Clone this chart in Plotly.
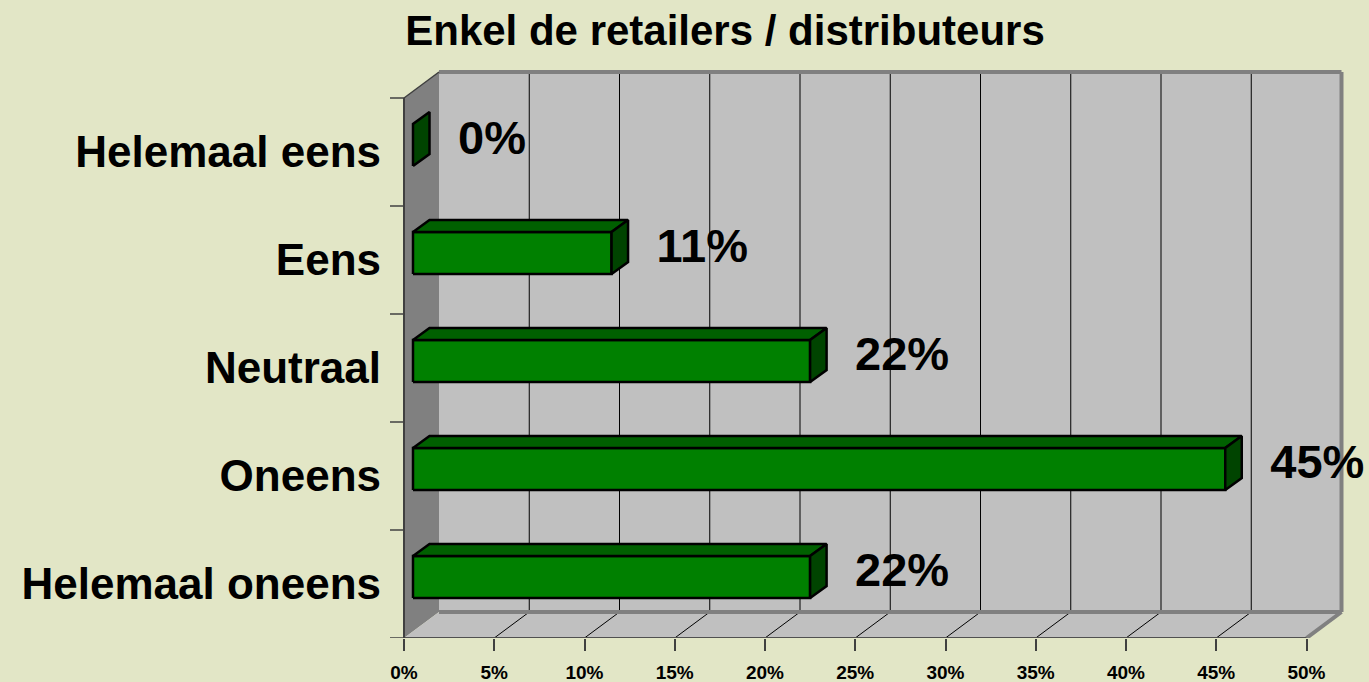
import plotly.graph_objects as go

# ---------------- data ----------------
categories = ["Helemaal eens", "Eens", "Neutraal", "Oneens", "Helemaal oneens"]
values = [0, 11, 22, 45, 22]
value_labels = ["0%", "11%", "22%", "45%", "22%"]
x_tick_vals = [0, 5, 10, 15, 20, 25, 30, 35, 40, 45, 50]
x_tick_text = ["0%", "5%", "10%", "15%", "20%", "25%", "30%", "35%", "40%", "45%", "50%"]
title_text = "Enkel de retailers / distributeurs"

# ---------------- styling / geometry ----------------
W, H = 1369, 682
PX_PER_PCT = 18.05
PX_PER_CAT = 108.0
X0_PX = 404.0      # pixel of front 0%
Y0_PX = 638.0      # pixel of front floor edge
L_PX, R_PX, T_PX = 388.0, 1369.0, 60.0

X_MAX = x_tick_vals[-1]
N = len(categories)

DX = 35 / PX_PER_PCT   # wall depth (x)
DY = 26 / PX_PER_CAT   # wall depth (y)
BOX = 9 / PX_PER_PCT   # bar front offset x
BOY = 7 / PX_PER_CAT   # bar front offset y
BDX = 16.5 / PX_PER_PCT  # bar depth x
BDY = 12 / PX_PER_CAT    # bar depth y
BH = 21 / PX_PER_CAT     # bar half height
LBL_DX = 45 / PX_PER_PCT
LBL_DY = 0.09
TICK_L = 14 / PX_PER_PCT

BG = "#E2E6C6"
WALL = "#C0C0C0"
SIDE_WALL = "#808080"
BORDER = "#808080"
AXIS = "#404040"
FRONT = "#008000"
TOP = "#006000"
SIDE = "#004400"
FONT = "Liberation Sans, Arial, sans-serif"

fig = go.Figure()


def poly(xs, ys, fill=None, lc="black", lw=0.0):
    fig.add_trace(go.Scatter(
        x=list(xs) + [xs[0]], y=list(ys) + [ys[0]], mode="lines",
        fill="toself" if fill else None, fillcolor=fill,
        line=dict(color=lc, width=lw), hoverinfo="skip", showlegend=False))


def lines(segs, color, width):
    xs, ys = [], []
    for (x1, y1, x2, y2) in segs:
        xs += [x1, x2, None]
        ys += [y1, y2, None]
    fig.add_trace(go.Scatter(x=xs, y=ys, mode="lines",
                             line=dict(color=color, width=width),
                             hoverinfo="skip", showlegend=False))


# back wall
poly([DX, X_MAX + DX, X_MAX + DX, DX], [DY, DY, N + DY, N + DY], fill=WALL, lc=WALL, lw=0)
# back wall gridlines
lines([(v + DX, DY, v + DX, N + DY) for v in x_tick_vals[1:-1]], "black", 1)
# left wall
poly([0, 0, DX, DX], [0, N, N + DY, DY], fill=SIDE_WALL, lc=SIDE_WALL, lw=0)
# floor
poly([0, X_MAX, X_MAX + DX, DX], [0, 0, DY, DY], fill=WALL, lc=WALL, lw=0)
# floor gridlines
lines([(v, 0, v + DX, DY) for v in x_tick_vals[1:-1]], "black", 1)
# wall / floor borders
lines([(DX, N + DY, X_MAX + DX, N + DY),
       (X_MAX + DX, N + DY, X_MAX + DX, DY),
       (DX, DY, X_MAX + DX, DY),
       (X_MAX, 0, X_MAX + DX, DY)], BORDER, 4)
# left wall top edge
lines([(0, N, DX, N + DY)], AXIS, 1.5)
# front axes
lines([(0, 0, X_MAX, 0)], "#505050", 2)
lines([(0, 0, 0, N)], AXIS, 2)
# category boundary ticks
lines([(-TICK_L, k, 0, k) for k in range(N + 1)], AXIS, 1.5)

# bars
for i, v in enumerate(values):
    c = N - 1 - i + 0.5
    y1 = c + BOY - BH
    y2 = c + BOY + BH
    x1 = BOX
    x2 = BOX + v
    if v > 0:
        poly([x1, x2, x2, x1], [y1, y1, y2, y2], fill=FRONT, lc="black", lw=2.5)
        poly([x1, x2, x2 + BDX, x1 + BDX], [y2, y2, y2 + BDY, y2 + BDY],
             fill=TOP, lc="black", lw=2.5)
    poly([x2, x2, x2 + BDX, x2 + BDX], [y1, y2, y2 + BDY, y1 + BDY],
         fill=SIDE, lc="black", lw=2.5)

# data labels
fig.add_trace(go.Scatter(
    x=[BOX + v + LBL_DX for v in values],
    y=[N - 1 - i + 0.5 + LBL_DY for i in range(N)],
    mode="text", text=value_labels, textposition="middle right",
    textfont=dict(family=FONT, size=47, color="black", weight="bold"),
    hoverinfo="skip", showlegend=False, cliponaxis=False))

fig.update_layout(
    width=W, height=H,
    paper_bgcolor=BG, plot_bgcolor="rgba(0,0,0,0)",
    margin=dict(l=L_PX, r=W - R_PX, t=T_PX, b=H - Y0_PX, pad=0),
    title=dict(text="<b>" + title_text + "</b>", x=725 / W, xanchor="center",
               xref="container",
               y=1 - 30 / H, yanchor="middle", yref="container",
               font=dict(family=FONT, size=42, color="black")),
    showlegend=False,
)
fig.update_xaxes(
    range=[(L_PX - X0_PX) / PX_PER_PCT, (R_PX - X0_PX) / PX_PER_PCT],
    showgrid=False, zeroline=False, showline=False,
    tickmode="array", tickvals=x_tick_vals, ticktext=x_tick_text,
    ticks="outside", ticklen=12, tickwidth=1.5, tickcolor=AXIS,
    ticklabelstandoff=5,
    tickfont=dict(family=FONT, size=19, color="black", weight="bold"),
    fixedrange=True, automargin=False)
fig.update_yaxes(
    range=[0, (Y0_PX - T_PX) / PX_PER_CAT],
    showgrid=False, zeroline=False, showline=False,
    tickmode="array", tickvals=[N - 1 - i + 0.5 for i in range(N)], ticktext=categories,
    ticks="", ticklabelstandoff=6,
    tickfont=dict(family=FONT, size=44, color="black", weight="bold"),
    fixedrange=True, automargin=False)

fig.write_html("out.html", config={"displayModeBar": False},
               post_script="document.body.style.margin='0';document.body.style.padding='0';document.body.style.overflow='hidden';")
